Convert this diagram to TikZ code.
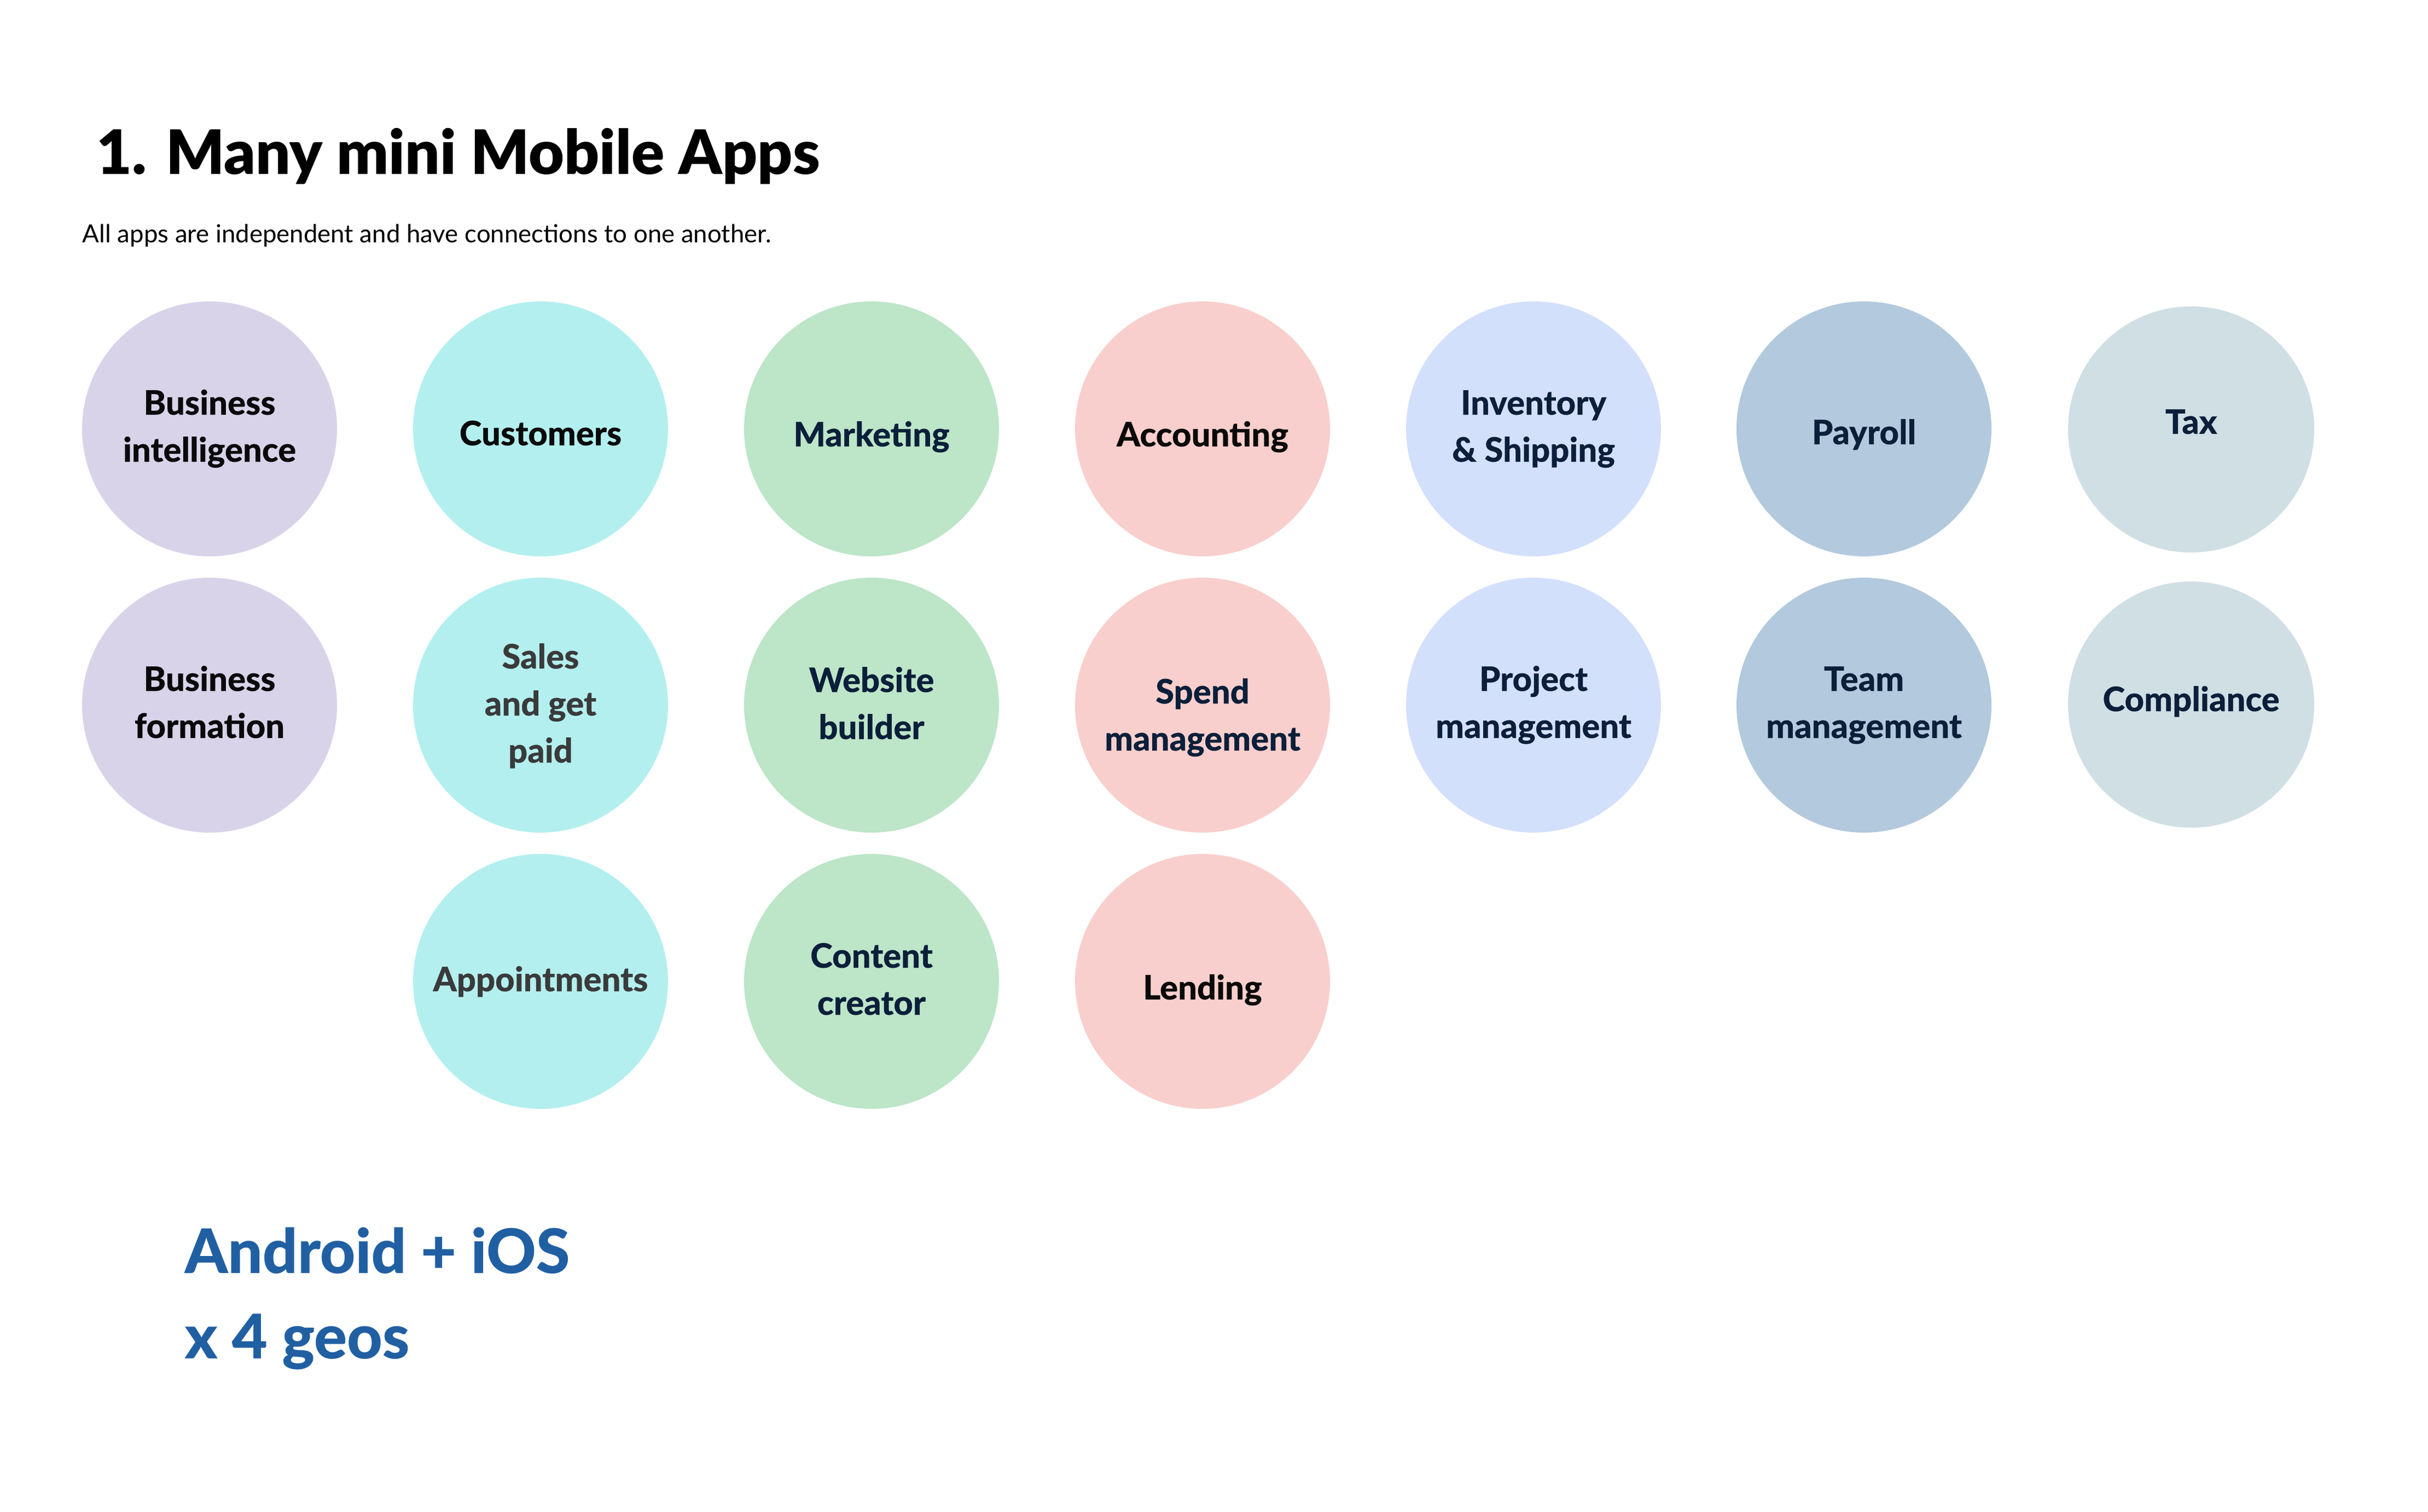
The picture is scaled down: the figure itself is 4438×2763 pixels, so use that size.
\documentclass[tikz,border=0pt]{standalone}
\usepackage{fontspec}
\usetikzlibrary{calc}
\setmainfont{Lato}
\IfFontExistsTF{Lato Heavy}
  {\newfontfamily\lblfam{Lato Heavy}[FakeBold=0.3]\newcommand\lblsel{\lblfam}}
  {\newfontfamily\lblfam{Lato}[FakeBold=1.3]\newcommand\lblsel{\lblfam\bfseries}}
\IfFontExistsTF{Lato Black}
  {\newfontfamily\ttlfam{Lato Black}\newcommand\ttlsel{\ttlfam}}
  {\newfontfamily\ttlfam{Lato}[FakeBold=1.8]\newcommand\ttlsel{\ttlfam\bfseries}}
\newcommand\lines[1]{\vtop{\halign{\hfil##\hfil\cr#1\crcr}}}
\definecolor{cPurple}{HTML}{D9D3EA}
\definecolor{cCyan}{HTML}{B4EFEF}
\definecolor{cGreen}{HTML}{BDE5C8}
\definecolor{cPink}{HTML}{F8CFCC}
\definecolor{cLblue}{HTML}{D3E0FC}
\definecolor{cSteel}{HTML}{B3C9DD}
\definecolor{cGrey}{HTML}{D0DFE4}
\definecolor{tBlack}{HTML}{0A0A0A}
\definecolor{tNavy}{HTML}{0B1F3A}
\definecolor{tGrey}{HTML}{3A3A3A}
\definecolor{tBlue}{HTML}{215FA3}
\tikzset{
  app/.style={circle, minimum size=116.5pt, inner sep=0pt},
  appsm/.style={app, minimum size=112.5pt},
  lbl/.style={anchor=base, inner sep=0pt, font=\fontsize{15.4}{21.5}\selectfont\lblsel},
  title/.style={anchor=base west, inner sep=0pt, font=\fontsize{28}{32}\selectfont\ttlsel, text=black},
  sub/.style={anchor=base west, inner sep=0pt, font=\fontsize{11.4}{14}\selectfont, text=black},
  big/.style={anchor=base west, inner sep=0pt, font=\fontsize{28}{39}\selectfont\lblsel, text=tBlue}
}
\begin{document}
\begin{tikzpicture}[x=0.25pt, y=-0.25pt]
\useasboundingbox (0,0) rectangle (4438,2763);
\node[title] (title) at (176,318) {1. Many mini Mobile Apps};
\node[sub] (subtitle) at (150,443) {All apps are independent and have connections to one another.};
% circles
\node[app, fill=cPurple] (bi) at (383,784) {};
\node[app, fill=cPurple] (bf) at (383,1289) {};
\node[app, fill=cCyan] (cust) at (988,784) {};
\node[app, fill=cCyan] (sales) at (988,1289) {};
\node[app, fill=cCyan] (appt) at (988,1794) {};
\node[app, fill=cGreen] (mkt) at (1593,784) {};
\node[app, fill=cGreen] (web) at (1593,1289) {};
\node[app, fill=cGreen] (content) at (1593,1794) {};
\node[app, fill=cPink] (acc) at (2198,784) {};
\node[app, fill=cPink] (spend) at (2198,1289) {};
\node[app, fill=cPink] (lend) at (2198,1794) {};
\node[app, fill=cLblue] (inv) at (2803,784) {};
\node[app, fill=cLblue] (proj) at (2803,1289) {};
\node[app, fill=cSteel] (pay) at (3407,784) {};
\node[app, fill=cSteel] (team) at (3407,1289) {};
\node[appsm, fill=cGrey] (tax) at (4005,785) {};
\node[appsm, fill=cGrey] (comp) at (4005,1288) {};
% labels (anchor = baseline of first line)
\node[lbl, text=tBlack] (biL) at ($(bi.center)+(0,-26)$) {\lines{Business\cr intelligence}};
\node[lbl, text=tBlack] (bfL) at ($(bf.center)+(0,-26)$) {\lines{Business\cr formation}};
\node[lbl, text=tBlack] (custL) at ($(cust.center)+(0,30)$) {\lines{Customers}};
\node[lbl, text=tGrey] (salesL) at ($(sales.center)+(0,-67)$) {\lines{Sales\cr and get\cr paid}};
\node[lbl, text=tGrey] (apptL) at ($(appt.center)+(0,18)$) {\lines{Appointments}};
\node[lbl, text=tNavy] (mktL) at ($(mkt.center)+(0,32)$) {\lines{Marketing}};
\node[lbl, text=tNavy] (webL) at ($(web.center)+(0,-24)$) {\lines{Website\cr builder}};
\node[lbl, text=tNavy] (contentL) at ($(content.center)+(0,-25)$) {\lines{Content\cr creator}};
\node[lbl, text=tBlack] (accL) at ($(acc.center)+(0,32)$) {\lines{Accounting}};
\node[lbl, text=tNavy] (spendL) at ($(spend.center)+(0,-3)$) {\lines{Spend\cr management}};
\node[lbl, text=tBlack] (lendL) at ($(lend.center)+(0,33)$) {\lines{Lending}};
\node[lbl, text=tNavy] (invL) at ($(inv.center)+(0,-26)$) {\lines{Inventory\cr \&~Shipping}};
\node[lbl, text=tNavy] (projL) at ($(proj.center)+(0,-26)$) {\lines{Project\cr management}};
\node[lbl, text=tNavy] (payL) at ($(pay.center)+(0,28)$) {\lines{Payroll}};
\node[lbl, text=tNavy] (teamL) at ($(team.center)+(0,-26)$) {\lines{Team\cr management}};
\node[lbl, text=tNavy] (taxL) at ($(tax.center)+(0,8)$) {\lines{Tax}};
\node[lbl, text=tNavy] (compL) at ($(comp.center)+(0,12)$) {\lines{Compliance}};
% bottom text
\node[big] (android) at (337,2327) {Android + iOS};
\node[big] (geos) at (337,2483) {x 4 geos};
\end{tikzpicture}
\end{document}
